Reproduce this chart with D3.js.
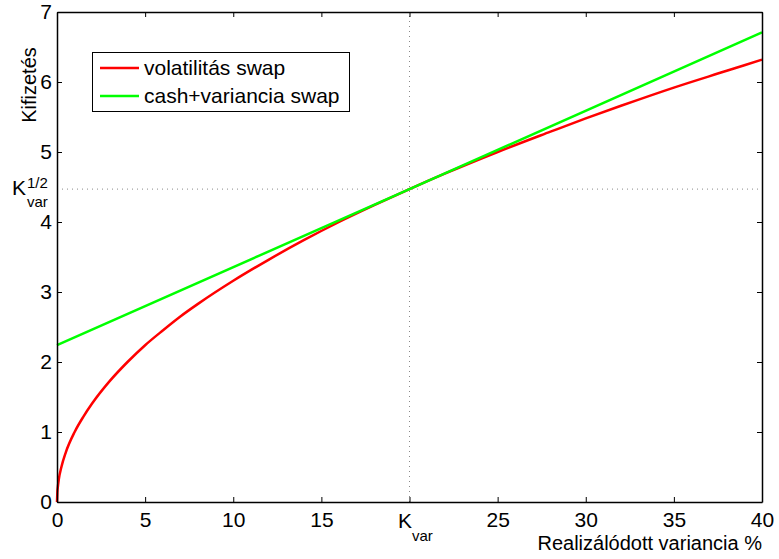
<!DOCTYPE html>
<html><head><meta charset="utf-8">
<script src="https://cdn.jsdelivr.net/npm/d3@7"></script>
<style>body{margin:0;background:#fff}svg{display:block}text{font-family:"Liberation Sans",Arial,sans-serif;fill:#000}</style>
</head><body>
<script>
// data
const volX = [0, 0.02, 0.05, 0.1, 0.25, 0.5, 1, 1.5, 2, 3, 4, 5, 6, 7, 8, 10, 12, 14, 16, 18, 20, 22, 25, 28, 30, 32, 35, 38, 40];
const volY = [0, 0.14, 0.22, 0.32, 0.5, 0.71, 1.0, 1.22, 1.41, 1.73, 2.0, 2.24, 2.45, 2.65, 2.83, 3.16, 3.46, 3.74, 4.0, 4.24, 4.47, 4.69, 5.0, 5.29, 5.48, 5.66, 5.92, 6.16, 6.32];
const cashX = [0, 20, 40];
const cashY = [2.24, 4.47, 6.71];
const xTicks = [0, 5, 10, 15, 20, 25, 30, 35, 40];
const yTicks = [0, 1, 2, 3, 4, 5, 6, 7];
const KVAR = 20, KVAR_SQRT = 4.47;
const seriesNames = ["volatilitás swap", "cash+variancia swap"];
const seriesColors = ["#ff0000", "#00ff00"];

const W = 779, H = 559;
const L = 57, R = 762, T = 12, B = 502;
const svg = d3.select("body").append("svg").attr("width", W).attr("height", H);
const x = d3.scaleLinear().domain([0, 40]).range([L, R]);
const y = d3.scaleLinear().domain([0, 7]).range([B, T]);

// dotted reference lines
svg.append("line").attr("x1", x(KVAR)).attr("x2", x(KVAR)).attr("y1", y(0)).attr("y2", y(7))
  .attr("stroke", "#888").attr("stroke-width", 1).attr("stroke-dasharray", "1,4");
svg.append("line").attr("x1", x(0)).attr("x2", x(40)).attr("y1", y(KVAR_SQRT)).attr("y2", y(KVAR_SQRT))
  .attr("stroke", "#888").attr("stroke-width", 1).attr("stroke-dasharray", "1,4");

// series
const line = d3.line().curve(d3.curveMonotoneX);
svg.append("path").attr("d", line(volX.map((v, i) => [x(v), y(volY[i])])))
  .attr("fill", "none").attr("stroke", seriesColors[0]).attr("stroke-width", 2.5);
svg.append("path").attr("d", d3.line()(cashX.map((v, i) => [x(v), y(cashY[i])])))
  .attr("fill", "none").attr("stroke", seriesColors[1]).attr("stroke-width", 2.5);

// axes (ticks inside)
const ax = svg.append("g");
const fmtX = d => (d === KVAR ? "" : String(d));
const fmtY = d => String(d);
ax.append("g").attr("transform", `translate(0,${B})`).call(d3.axisBottom(x).tickValues(xTicks).tickSizeInner(-5).tickSizeOuter(0).tickPadding(10).tickFormat(fmtX));
ax.append("g").attr("transform", `translate(0,${T})`).call(d3.axisTop(x).tickValues(xTicks).tickSizeInner(-5).tickSizeOuter(0).tickFormat(""));
ax.append("g").attr("transform", `translate(${L},0)`).call(d3.axisLeft(y).tickValues(yTicks).tickSizeInner(-5).tickSizeOuter(0).tickPadding(5).tickFormat(fmtY));
ax.append("g").attr("transform", `translate(${R},0)`).call(d3.axisRight(y).tickValues(yTicks).tickSizeInner(-5).tickSizeOuter(0).tickFormat(""));
ax.selectAll(".domain").attr("stroke", "#000").attr("stroke-width", 1.5);
ax.selectAll(".tick line").attr("stroke", "#000").attr("stroke-width", 1);
ax.selectAll(".tick text").attr("font-size", 21).attr("font-family", "Liberation Sans, Arial, sans-serif").attr("fill", "#000");

// special labels
const kx = svg.append("text").attr("x", 398).attr("y", 528).attr("font-size", 21);
kx.append("tspan").text("K");
kx.append("tspan").attr("font-size", 15).attr("dy", 13).text("var");
const ky = svg.append("g");
ky.append("text").attr("x", 12).attr("y", 195).attr("font-size", 21).text("K");
ky.append("text").attr("x", 27).attr("y", 188).attr("font-size", 15).text("1/2");
ky.append("text").attr("x", 27).attr("y", 207).attr("font-size", 15).text("var");

// axis titles
svg.append("text").attr("x", R).attr("y", 550).attr("text-anchor", "end").attr("font-size", 20).text("Realizálódott variancia %");
svg.append("text").attr("transform", "translate(36,85) rotate(-90)").attr("text-anchor", "middle").attr("font-size", 20).text("Kifizetés");

// legend
const lg = svg.append("g");
lg.append("rect").attr("x", 92.5).attr("y", 52.5).attr("width", 257).attr("height", 59)
  .attr("fill", "#fff").attr("stroke", "#000").attr("stroke-width", 1);
seriesNames.forEach((n, i) => {
  const yy = 68 + i * 28;
  lg.append("line").attr("x1", 100).attr("x2", 139).attr("y1", yy).attr("y2", yy)
    .attr("stroke", seriesColors[i]).attr("stroke-width", 2.5);
  lg.append("text").attr("x", 144).attr("y", yy + 7).attr("font-size", 21).text(n);
});
</script>
</body></html>
